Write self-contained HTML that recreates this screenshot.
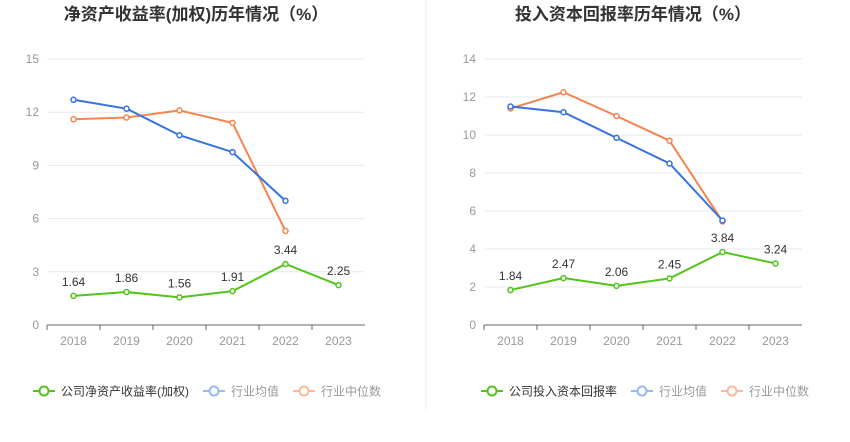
<!DOCTYPE html>
<html><head><meta charset="utf-8">
<style>
body{margin:0;background:#fff;font-family:"Liberation Sans","Noto Sans CJK SC",sans-serif;}
svg text{font-family:"Liberation Sans","Noto Sans CJK SC",sans-serif;}
</style></head>
<body>
<svg id="chart" width="850" height="437" xmlns="http://www.w3.org/2000/svg">
<line x1="426" y1="0" x2="426" y2="410" stroke="#eeeeee"/>
</svg>
<script>
const years=["2018","2019","2020","2021","2022","2023"];
const roeCompany=[1.64,1.86,1.56,1.91,3.44,2.25];
const roeAvg=[12.7,12.2,10.7,9.75,7.0];
const roeMedian=[11.6,11.7,12.1,11.4,5.3];
const roeTicks=[0,3,6,9,12,15];
const roicCompany=[1.84,2.47,2.06,2.45,3.84,3.24];
const roicAvg=[11.5,11.2,9.85,8.5,5.5];
const roicMedian=[11.4,12.25,11.0,9.7,5.45];
const roicTicks=[0,2,4,6,8,10,12,14];

const svg=document.getElementById('chart');
const NS='http://www.w3.org/2000/svg';
function mk(tag,attrs,parent){const e=document.createElementNS(NS,tag);for(const k in attrs)e.setAttribute(k,attrs[k]);(parent||svg).appendChild(e);return e;}

function drawChart(cfg){
  const g=mk('g',{});
  
  
  const x0=cfg.left,x1=cfg.right,yb=325,yt=59;
  const maxV=cfg.ticks[cfg.ticks.length-1];
  const ys=v=>yb-(v/maxV)*(yb-yt);
  const step=(x1-x0)/years.length;
  const xs=i=>x0+step*(i+0.5);
  const t=mk('text',{x:(x0+x1)/2-10,y:20,'text-anchor':'middle','font-size':17,'font-weight':'bold',fill:'#333'},g);
  t.textContent=cfg.title;
  
  
  cfg.ticks.forEach(v=>{
    const y=ys(v);
    const l=mk('line',{x1:x0,x2:x1,y1:y,y2:y,stroke:v===0?'#666':'#e6e9f0'},g);
    
    
    const tx=mk('text',{x:x0-8,y:y+4,'text-anchor':'end','font-size':12,fill:'#999'},g);
    tx.textContent=v;
    
    
  });
  years.forEach((yr,i)=>{
    const tk=mk('line',{x1:xs(i)-step/2,x2:xs(i)-step/2,y1:yb,y2:yb+5,stroke:'#666'},g);
    
    
    const tx=mk('text',{x:xs(i),y:yb+20,'text-anchor':'middle','font-size':12,fill:'#999'},g);
    tx.textContent=yr;
    
    
  });
  const series=[[cfg.median,'#f5844f','median'],[cfg.avg,'#3672e0','average'],[cfg.company,'#52c41a','company']];
  series.forEach(([data,col,nm])=>{
    const pts=data.map((v,i)=>xs(i)+','+ys(v)).join(' ');
    const pl=mk('polyline',{points:pts,fill:'none',stroke:col,'stroke-width':2},g);
    
    
    data.forEach((v,i)=>{
      const c=mk('circle',{cx:xs(i),cy:ys(v),r:2.5,fill:'#fff',stroke:col,'stroke-width':1.5},g);
      
      
    });
  });
  cfg.company.forEach((v,i)=>{
    const tx=mk('text',{x:xs(i),y:ys(v)-10,'text-anchor':'middle','font-size':12,fill:'#333'},g);
    tx.textContent=v.toFixed(2);
    
    
  });
  // legend
  let lx=cfg.legendX;const ly=391;
  [[cfg.legend,'#52c41a','#333'],['行业均值','#9ab8f0','#999'],['行业中位数','#fbb89c','#999']].forEach(([lab,col,tc])=>{
    const lg=mk('g',{},g);
    
    
    mk('line',{x1:lx,x2:lx+22,y1:ly,y2:ly,stroke:col,'stroke-width':2},lg);
    mk('circle',{cx:lx+11,cy:ly,r:4.5,fill:'#fff',stroke:col,'stroke-width':2},lg);
    const tx=mk('text',{x:lx+28,y:ly+4.5,'font-size':12,fill:tc},lg);
    tx.textContent=lab;
    lx+=28+tx.getComputedTextLength()+14;
  });
}
drawChart({name:'roe-chart',title:'净资产收益率(加权)历年情况（%）',left:47,right:365,ticks:roeTicks,company:roeCompany,avg:roeAvg,median:roeMedian,legend:'公司净资产收益率(加权)',legendX:33});
drawChart({name:'roic-chart',title:'投入资本回报率历年情况（%）',left:484,right:802,ticks:roicTicks,company:roicCompany,avg:roicAvg,median:roicMedian,legend:'公司投入资本回报率',legendX:481});
</script>
</body></html>
